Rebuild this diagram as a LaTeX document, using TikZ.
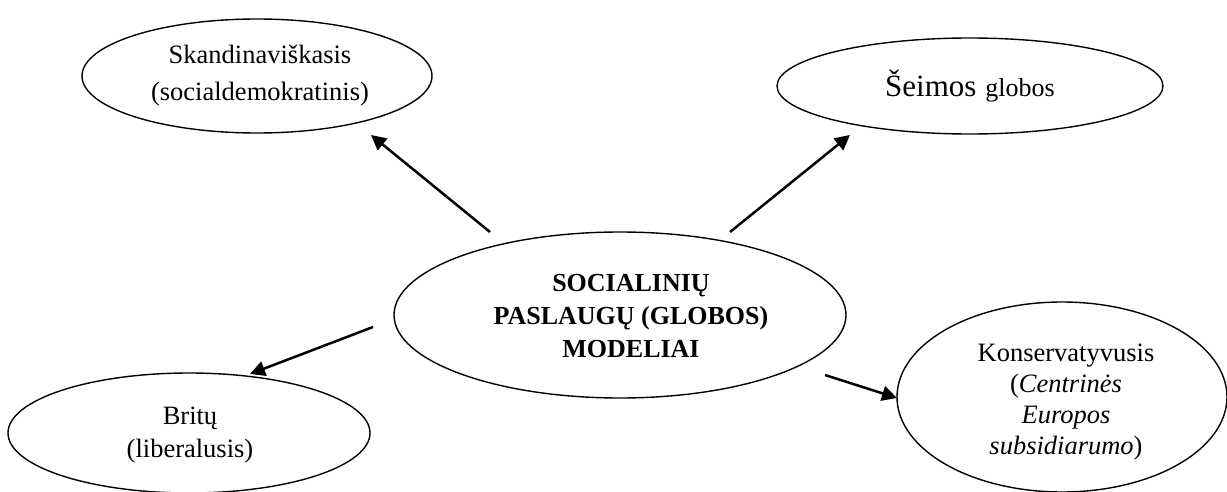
\documentclass[tikz,border=0pt]{standalone}
\usepackage{fontspec}
\setmainfont{Liberation Serif}
\usetikzlibrary{shapes.geometric,arrows.meta}
\begin{document}
\begin{tikzpicture}[x=1pt,y=-1pt,
  oval/.style={draw,ellipse,line width=1.4pt,inner sep=0pt},
  label text/.style={align=center,inner sep=0pt},
  link/.style={line width=2.5pt,-{Triangle[length=15pt,width=15pt]}}]
\useasboundingbox (0,0) rectangle (1227,492);
\fill[white] (0,0) rectangle (1227,492);

% outer models
\node[oval,minimum width=350pt,minimum height=114pt] (skand) at (257,76) {};
\node[label text,font=\fontsize{26.5}{37}\selectfont] (skandtxt) at (260,76)
  {Skandinaviškasis\\(socialdemokratinis)};

\node[oval,minimum width=386pt,minimum height=96pt] (seim) at (970,86) {};
\node[label text] (seimtxt) at (seim.center)
  {{\fontsize{31}{36}\selectfont Šeimos}\hspace{9pt}{\fontsize{26}{30}\selectfont globos}};

\node[oval,minimum width=362pt,minimum height=120pt] (brit) at (189,433) {};
\node[label text,font=\fontsize{26.5}{33}\selectfont] (brittxt) at (190,435)
  {Britų\\(liberalusis)};

\node[oval,minimum width=330pt,minimum height=190pt] (kons) at (1062,397) {};
\node[label text,font=\fontsize{26.5}{31}\selectfont] (konstxt) at (1066,402)
  {Konservatyvusis\\(\textit{Centrinės}\\\textit{Europos}\\\textit{subsidiarumo})};

% central node
\node[oval,minimum width=452pt,minimum height=166pt] (main) at (620,315) {};
\node[label text,font=\fontsize{26}{33}\selectfont\bfseries] (maintxt) at (631,316)
  {SOCIALINIŲ\\PASLAUGŲ (GLOBOS)\\MODELIAI};

% arrow end points
\coordinate (a1s) at (490,232); \coordinate (a1e) at (371,135);
\coordinate (a2s) at (730,232); \coordinate (a2e) at (850,135);
\coordinate (a3s) at (373,327); \coordinate (a3e) at (250,374);
\coordinate (a4s) at (825,375); \coordinate (a4e) at (897,398);

\draw[link] (a1s) -- (a1e);
\draw[link] (a2s) -- (a2e);
\draw[link] (a3s) -- (a3e);
\draw[link] (a4s) -- (a4e);
\end{tikzpicture}
\end{document}
